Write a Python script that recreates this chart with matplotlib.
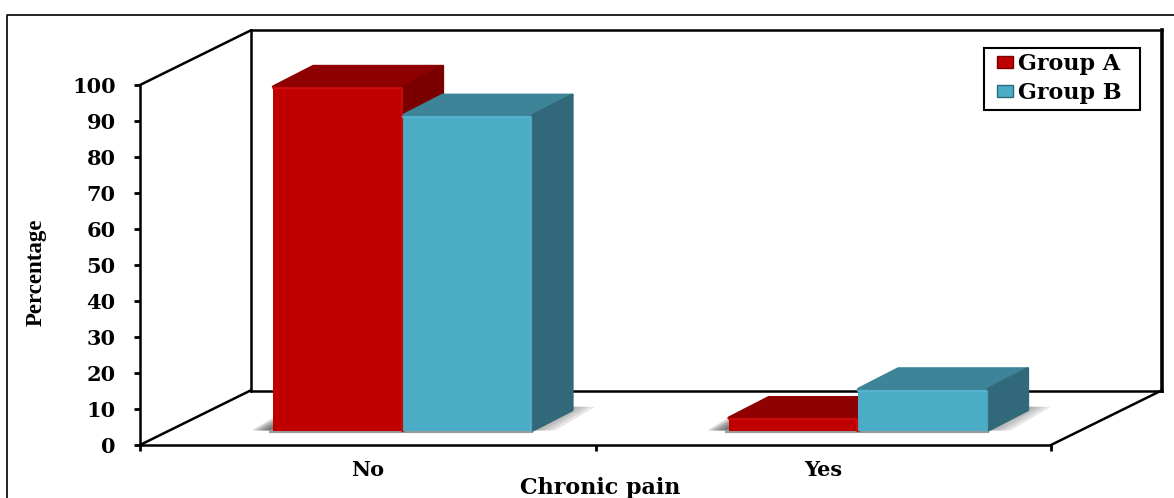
import matplotlib
matplotlib.use("Agg")
import matplotlib.pyplot as plt
from matplotlib.lines import Line2D
from matplotlib.patches import Patch, Polygon, Rectangle

# Values
categories = ["No", "Yes"]
group_a = [95.5, 3.5]
group_b = [87.5, 11.5]
y_ticks = list(range(0, 101, 10))

W, H = 1174, 498
PX = 911 / 2  # pixels per x unit
PY = 360 / 100  # pixels per percent

# Offsets of the fake 3D box, in data units
wall_dx, wall_dy = 110.5 / PX, 54.5 / PY
base_dx, base_dy = 35 / PX, 14.5 / PY
bar_dx, bar_dy = 40 / PX, 20.5 / PY
bar_w = 129.5 / PX

serif = "DejaVu Serif"

fig = plt.figure(figsize=(W / 100, H / 100), dpi=100, facecolor="white")
ax = fig.add_axes([140 / W, (H - 445) / H, 911 / W, 360 / H])
ax.set_xlim(0, 2)
ax.set_ylim(0, 100)
ax.patch.set_alpha(0)

# Outer frame of the picture
fig.add_artist(Line2D([7 / W, 7 / W, 1], [0, 1 - 15 / H, 1 - 15 / H],
                      color="black", lw=1.2, transform=fig.transFigure))

# Back wall and floor edges
wall = dict(color="black", lw=1.8, clip_on=False, zorder=1)
ax.plot([0, wall_dx], [100, 100 + wall_dy], **wall)
ax.plot([0, wall_dx], [0, wall_dy], **wall)
ax.plot([2, 2 + wall_dx], [0, wall_dy], **wall)
ax.plot([wall_dx, wall_dx], [wall_dy, 100 + wall_dy], **wall)
ax.plot([wall_dx, 2 + wall_dx], [100 + wall_dy, 100 + wall_dy], **wall)
ax.plot([wall_dx, 2 + wall_dx], [wall_dy, wall_dy], **wall)
ax.plot([2 + wall_dx, 2 + wall_dx], [wall_dy, 100 + wall_dy], color="black", lw=2.6,
        clip_on=False, zorder=1)


def draw_bar(x0, value, front, top, side, light):
    x = x0 + base_dx
    y0 = base_dy
    y1 = base_dy + value
    ax.bar(x, value, bar_w, bottom=y0, align="edge", color=front, zorder=4)
    ax.add_patch(Polygon([(x, y1), (x + bar_w, y1), (x + bar_w + bar_dx, y1 + bar_dy),
                          (x + bar_dx, y1 + bar_dy)], closed=True, fc=top, ec=top,
                         lw=2, joinstyle="round", zorder=4, clip_on=False))
    ax.add_patch(Polygon([(x + bar_w, y0), (x + bar_w + bar_dx, y0 + bar_dy),
                          (x + bar_w + bar_dx, y1 + bar_dy), (x + bar_w, y1)], closed=True,
                         fc=side, ec=side, lw=2, joinstyle="round", zorder=4, clip_on=False))
    # bevel along the front edges
    ax.plot([x, x + bar_w - 1 / PX, x + bar_w - 1 / PX], [y1 - 0.4, y1 - 0.4, y0],
            color=light, lw=1.6, alpha=0.7, zorder=5, solid_joinstyle="round", clip_on=False)


def draw_shadow(x0):
    # soft shadow on the floor, several see through layers
    x = x0 + base_dx
    for k in range(9):
        grow = 1 - k * 0.09
        left = x - 22 / PX * grow
        right = x + 2 * bar_w + 63 / PX * grow
        ax.add_patch(Polygon([(left, base_dy), (right - 40 / PX, base_dy),
                              (right, base_dy + 6.6), (left + 40 / PX, base_dy + 6.6)],
                             closed=True, fc="#444444", ec="none", alpha=0.13, zorder=2))
    ax.plot([x - 3 / PX, x + 2 * bar_w], [base_dy - 0.3, base_dy - 0.3],
            color="#999999", lw=1.5, zorder=3)


for i in range(len(categories)):
    start = i + 0.5 - bar_w
    draw_shadow(start)
    draw_bar(start, group_a[i], "#C00000", "#8F0000", "#7A0000", "#DC1010")
    draw_bar(start + bar_w, group_b[i], "#4BACC6", "#3D8499", "#31697B", "#5CBBD6")

# Axes
for name in ["top", "right"]:
    ax.spines[name].set_visible(False)
for name in ["left", "bottom"]:
    ax.spines[name].set_linewidth(1.8)
    ax.spines[name].set_zorder(6)

ax.set_yticks(y_ticks)
ax.set_xticks([0, 1, 2])
ax.set_xticklabels([])
ax.set_xticks([i + 0.5 for i in range(len(categories))], minor=True)
ax.set_xticklabels(categories, minor=True)
ax.tick_params(axis="both", which="major", length=4.5, width=2, direction="out", color="black")
ax.tick_params(axis="y", which="major", pad=13)
ax.tick_params(axis="x", which="minor", length=0, pad=11)
for lab in ax.get_yticklabels() + ax.get_xticklabels(minor=True):
    lab.set_fontfamily(serif)
    lab.set_fontweight("bold")
    lab.set_fontsize(15)

ax.set_xlabel("Chronic pain", family=serif, weight="bold", fontsize=16)
ax.xaxis.set_label_coords(0.505, -0.09)
ax.set_ylabel("Percentage", family="Liberation Serif", weight="bold", fontsize=16.5)
ax.yaxis.set_label_coords(-0.102, 0.48)

# Legend box is wider than the entries need, so the frame is drawn apart
fig.add_artist(Rectangle((984 / W, 1 - 110 / H), 156 / W, 62 / H, fc="white", ec="black",
                         lw=1.5, transform=fig.transFigure, zorder=7))
handles = [Patch(fc="#C00000", ec="#7A0000", label="Group A"),
           Patch(fc="#4BACC6", ec="#31697B", label="Group B")]
leg = fig.legend(handles=handles, loc="upper left", bbox_to_anchor=(997 / W, 1 - 53 / H),
                 borderaxespad=0, frameon=False, handlelength=0.7, handleheight=0.45,
                 handletextpad=0.25, labelspacing=0.33, borderpad=0,
                 prop=dict(family=serif, weight="bold", size=16))
leg.set_zorder(8)

fig.savefig("out.png", dpi=100)
